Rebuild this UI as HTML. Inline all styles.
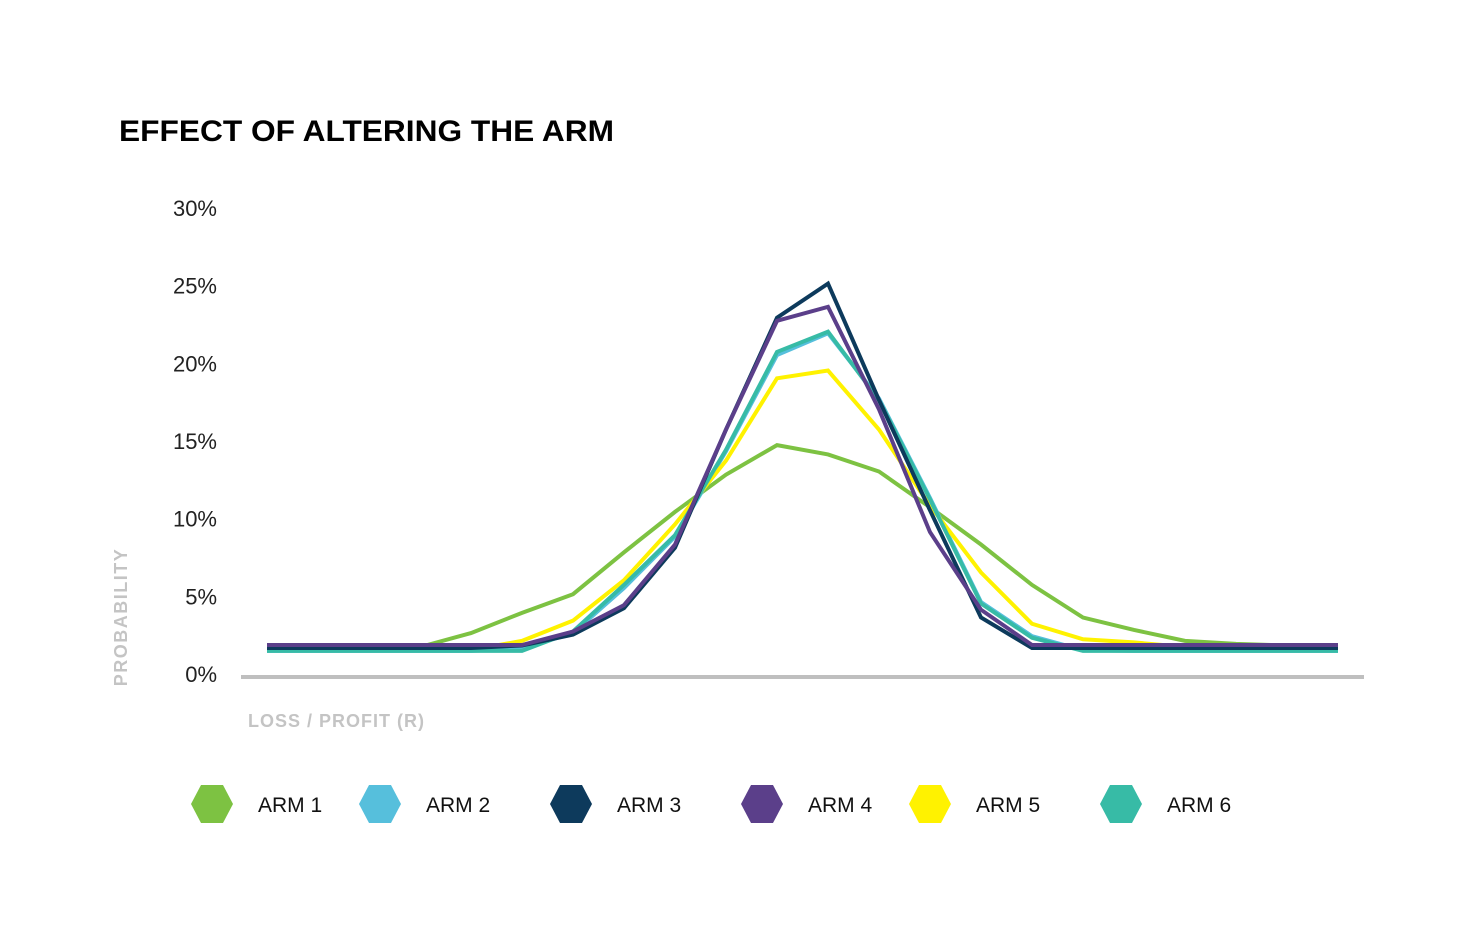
<!DOCTYPE html>
<html><head><meta charset="utf-8"><style>
html,body{margin:0;padding:0;background:#fff;}
svg{display:block;font-family:"Liberation Sans",sans-serif;}
</style></head><body>
<svg id="chart" width="1476" height="945" viewBox="0 0 1476 945">
<text x="119" y="141" font-size="30" font-weight="bold" fill="#000" textLength="495" lengthAdjust="spacingAndGlyphs">EFFECT OF ALTERING THE ARM</text>
<g id="yticks"></g>
<text transform="translate(127,617) rotate(-90)" text-anchor="middle" font-size="18" font-weight="bold" fill="#c4c4c4" letter-spacing="1.5">PROBABILITY</text>
<text x="248" y="727" font-size="18" font-weight="bold" fill="#c4c4c4" letter-spacing="1">LOSS / PROFIT (R)</text>
<g id="lines"></g>
<rect x="241" y="675" width="1123" height="4" fill="#bfbfbf"></rect>
<g id="legend"></g>
</svg>
<script>
const categories = [-10,-9,-8,-7,-6,-5,-4,-3,-2,-1,0,1,2,3,4,5,6,7,8,9,10,11];
const arm1 = [1.7,1.7,1.7,1.8,2.7,4.0,5.2,7.9,10.5,12.9,14.8,14.2,13.1,10.8,8.4,5.8,3.7,2.9,2.2,2.0,1.9,1.8];
const arm2 = [1.55,1.55,1.55,1.55,1.55,1.7,2.7,5.6,8.9,14.4,20.6,22.0,17.8,11.4,4.7,2.5,1.6,1.55,1.55,1.55,1.55,1.55];
const arm3 = [1.74,1.74,1.74,1.74,1.74,1.9,2.6,4.3,8.2,15.8,23.0,25.2,17.7,10.6,3.7,1.74,1.74,1.74,1.74,1.74,1.74,1.74];
const arm4 = [1.93,1.93,1.93,1.93,1.93,1.93,2.8,4.5,8.4,15.8,22.8,23.7,17.1,9.2,4.2,1.93,1.93,1.93,1.93,1.93,1.93,1.93];
const arm5 = [1.6,1.6,1.6,1.6,1.6,2.2,3.5,6.1,9.7,13.8,19.1,19.6,15.8,10.9,6.6,3.3,2.3,2.1,1.8,1.7,1.7,1.6];
const arm6 = [1.55,1.55,1.55,1.55,1.55,1.55,2.8,5.8,9.0,14.5,20.8,22.1,17.7,11.3,4.6,2.4,1.55,1.55,1.55,1.55,1.55,1.55];
const yTicks = [0,5,10,15,20,25,30];
const names = ["ARM 1","ARM 2","ARM 3","ARM 4","ARM 5","ARM 6"];
const colors = ["#7dc242","#56bfdc","#0d3a5c","#5b3f8a","#fff200","#37bba6"];
const NS="http://www.w3.org/2000/svg";
function xs(i){return 267+i*(1338-267)/(categories.length-1);}
function ys(v){return 675-v*(675-209)/30;}
const yt=document.getElementById('yticks');
yTicks.forEach(t=>{
  const tx=document.createElementNS(NS,'text');
  
  
  tx.setAttribute('x',217);tx.setAttribute('y',ys(t)+7);
  tx.setAttribute('text-anchor','end');tx.setAttribute('font-size','22');tx.setAttribute('fill','#222');
  tx.textContent=t+'%';yt.appendChild(tx);
});
const series=[arm1,arm2,arm5,arm6,arm3,arm4];
const sIdx=[0,1,4,5,2,3];
const lg=document.getElementById('lines');
series.forEach((s,k)=>{
  const p=document.createElementNS(NS,'polyline');
  
  
  p.setAttribute('points',s.map((v,i)=>xs(i)+','+ys(v)).join(' '));
  p.setAttribute('fill','none');p.setAttribute('stroke',colors[sIdx[k]]);
  p.setAttribute('stroke-width','4');p.setAttribute('stroke-linejoin','miter');
  lg.appendChild(p);
});
const legX=[212,380,571,762,930,1121];
const leg=document.getElementById('legend');
names.forEach((n,i)=>{
  const cx=legX[i],cy=804;
  const h=document.createElementNS(NS,'polygon');
  
  
  h.setAttribute('points',[[cx-21,cy],[cx-11,cy-19],[cx+11,cy-19],[cx+21,cy],[cx+11,cy+19],[cx-11,cy+19]].map(p=>p.join(',')).join(' '));
  h.setAttribute('fill',colors[i]);leg.appendChild(h);
  const t=document.createElementNS(NS,'text');
  
  
  t.setAttribute('x',cx+46);t.setAttribute('y',cy+8);t.setAttribute('font-size','21');t.setAttribute('fill','#111');
  t.textContent=n;leg.appendChild(t);
});
</script>
</body></html>
